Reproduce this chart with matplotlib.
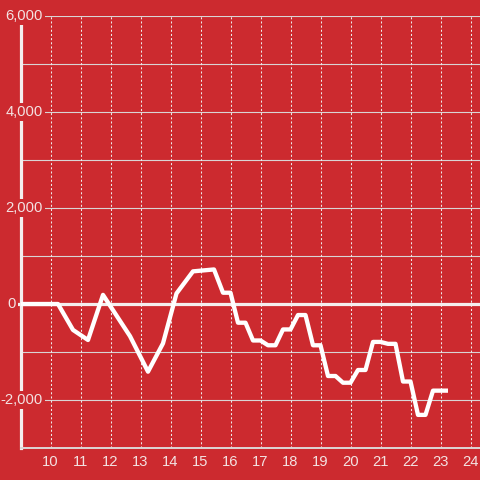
import numpy as np
import matplotlib as mpl
import matplotlib.pyplot as plt
import matplotlib.transforms as mtransforms

# hours (x) and values (y)
hours = [9.0, 10.25, 10.75, 11.25, 11.75, 12.65, 13.25, 13.75, 14.2, 14.75,
         15.45, 15.75, 16.0, 16.25, 16.5, 16.75, 17.0, 17.25, 17.5, 17.75,
         18.0, 18.25, 18.5, 18.75, 19.0, 19.25, 19.5, 19.75, 20.0, 20.25,
         20.5, 20.75, 21.0, 21.25, 21.5, 21.75, 22.0, 22.25, 22.5, 22.75, 23.25]
values = [0, 0, -540, -750, 190, -670, -1410, -820, 220, 680,
          720, 235, 235, -390, -390, -760, -760, -860, -860, -530,
          -530, -230, -230, -860, -860, -1500, -1500, -1640, -1640, -1375,
          -1375, -790, -790, -830, -830, -1615, -1615, -2310, -2310, -1805, -1805]

x_ticks = list(range(10, 25))
y_ticks = [6000, 4000, 2000, 0, -2000]
y_labels = ['6,000', '4,000', '2,000', '0', '-2,000']

bg = '#cc2a2f'
txt = '#f3e2e2'

plt.rcParams['font.family'] = ['Liberation Sans', 'DejaVu Sans']

fig = plt.figure(figsize=(4.8, 4.8), dpi=100, facecolor=bg)
ax = fig.add_axes([20.5/480, 32/480, 459.5/480, 432/480], facecolor=bg)

ax.set_xlim(9.0, 9.0 + 459.5/30)
ax.set_ylim(-3000, 6000)

# grid
for yv in range(-2000, 7000, 1000):
    ax.axhline(yv, color='#d9d4d4', lw=0.8, zorder=1)
for xv in x_ticks:
    ax.axvline(xv, color='#eeeaea', lw=0.75, ls=(0, (2, 2)), zorder=1)

# zero line
ax.axhline(0, xmin=-2.5/459.5, color='#f4eeee', lw=2.3, zorder=4, clip_on=False)

# data
ax.plot(hours, values, color='white', lw=3.1, solid_joinstyle='round',
        solid_capstyle='butt', zorder=5)

for s in ['top', 'right']:
    ax.spines[s].set_visible(False)
ax.spines['left'].set_color('#f4eeee')
ax.spines['left'].set_linewidth(2.3)
ax.spines['bottom'].set_color('#dcd6d6')
ax.spines['bottom'].set_linewidth(1.4)

ax.set_xticks(x_ticks)
ax.set_xticklabels([str(v) for v in x_ticks])
ax.tick_params(axis='x', length=0, pad=5, labelsize=10.6, labelcolor=txt)
ax.set_yticks([])

# y labels drawn with red boxes that cut the spine and grid
trans = mtransforms.blended_transform_factory(fig.transFigure, ax.transData)
for yv, lab in zip(y_ticks, y_labels):
    if yv == 0:
        xpos = 16/480
    else:
        xpos = 43/480
    ax.text(xpos, yv, lab, transform=trans, ha='right', va='center', fontsize=10.6,
            color=txt, zorder=6, clip_on=False,
            bbox=dict(facecolor=bg, edgecolor='none', pad=1.5))

fig.savefig('out.png', dpi=100, facecolor=bg)
